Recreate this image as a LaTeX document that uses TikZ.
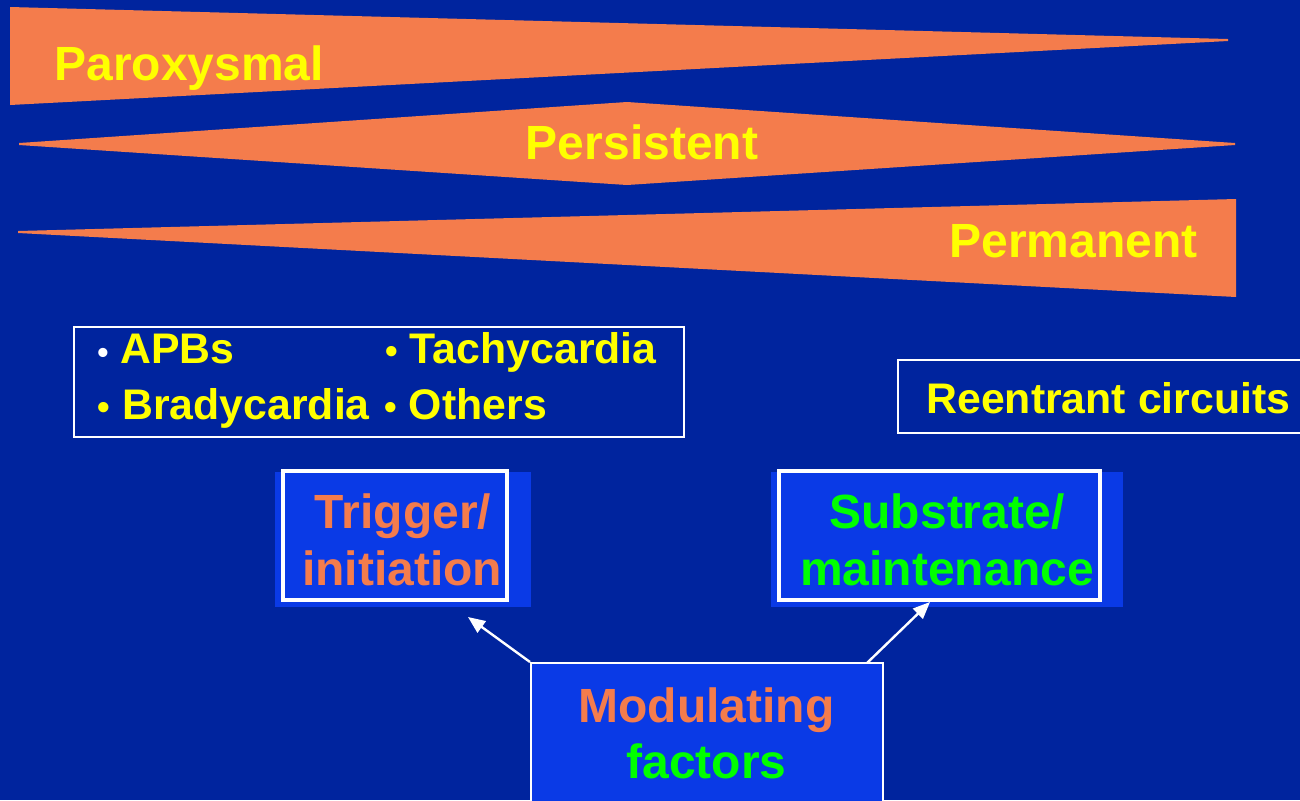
\documentclass[tikz,border=0pt]{standalone}
\usepackage{fontspec}
\setmainfont{Liberation Sans}
\usetikzlibrary{arrows.meta}
\definecolor{bgblue}{RGB}{0,36,158}
\definecolor{boxblue}{RGB}{10,58,230}
\definecolor{orng}{RGB}{244,124,76}
\definecolor{yel}{RGB}{255,255,0}
\definecolor{grn}{RGB}{0,255,0}
\newcommand{\ybul}{{\fontsize{18}{20}\selectfont\textbullet}}
\newcommand{\wbul}{{\fontsize{16}{20}\selectfont\color{white}\textbullet}}
\tikzset{
  bigtxt/.style={font=\fontsize{24}{28}\selectfont\bfseries, inner sep=0pt},
  smalltxt/.style={font=\fontsize{21.4}{25}\selectfont\bfseries, inner sep=0pt, text=yel},
  wedge/.style={fill=orng, draw=none},
  shadowbox/.style={fill=boxblue, draw=none, inner sep=0pt},
  framebox/.style={draw=white, line width=2pt, inner sep=0pt},
  listbox/.style={draw=white, line width=1pt, inner sep=0pt},
  conn/.style={draw=white, line width=1.2pt, -{Triangle[length=8.5pt,width=7pt]}}
}
\begin{document}
\begin{tikzpicture}[x=0.5pt,y=-0.5pt]
\useasboundingbox (0,0) rectangle (1300,800);
\fill[bgblue] (0,0) rectangle (1300,800);
\clip (0,0) rectangle (1300,800);

% wedges
\fill[wedge] (10,7) -- (1228,39) -- (1228,41) -- (10,105) -- cycle;
\fill[wedge] (19,143) -- (627,102) -- (1235,143) -- (1235,145) -- (627,185) -- (19,145) -- cycle;
\fill[wedge] (18,231) -- (1236,199) -- (1236,297) -- (18,233) -- cycle;
\node[bigtxt, text=yel, anchor=base west] (parox) at (54,80) {Paroxysmal};
\node[bigtxt, text=yel, anchor=base] (pers) at (642,159) {Persistent};
\node[bigtxt, text=yel, anchor=base west] (perm) at (949,257) {Permanent};

% list box
\node[listbox, minimum width=305pt, minimum height=55pt] (list) at (379,382) {};
\node[smalltxt, anchor=base west] (apb) at (97,363) {\wbul\ APBs};
\node[smalltxt, anchor=base west] (tachy) at (385,363) {\ybul\ Tachycardia};
\node[smalltxt, anchor=base west] (brady) at (97.5,419) {\ybul\ Bradycardia};
\node[smalltxt, anchor=base west] (others) at (384,419) {\ybul\ Others};

% reentrant box
\node[listbox, minimum width=220pt, minimum height=36.5pt] (reent) at (1118,396.5) {};
\node[smalltxt, anchor=base west] (reenttxt) at (926,413) {Reentrant circuits};

% trigger box
\node[shadowbox, minimum width=128pt, minimum height=67.5pt] (trigS) at (403,539.5) {};
\node[framebox, minimum width=112pt, minimum height=64.5pt] (trig) at (395,535.5) {};
\node[bigtxt, text=orng, anchor=base] (trig1) at (403,528) {Trigger/};
\node[bigtxt, text=orng, anchor=base] (trig2) at (402,585) {initiation};

% substrate box
\node[shadowbox, minimum width=176pt, minimum height=67.5pt] (subS) at (947,539.5) {};
\node[framebox, minimum width=160.5pt, minimum height=64.5pt] (sub) at (939.5,535.5) {};
\node[bigtxt, text=grn, anchor=base] (sub1) at (947,528) {Substrate/};
\node[bigtxt, text=grn, anchor=base] (sub2) at (947,585) {maintenance};

% modulating box
\node[fill=boxblue, draw=white, line width=1pt, inner sep=0pt, minimum width=176pt, minimum height=90pt] (mod) at (707,753) {};
\node[bigtxt, text=orng, anchor=base] (mod1) at (706.5,722) {Modulating};
\node[bigtxt, text=grn, anchor=base] (mod2) at (706.5,778) {factors};

% connectors
\coordinate (trigTip) at (468,617);
\coordinate (subTip) at (930,602);
\coordinate (modR) at (867,663);
\draw[conn] (mod.north west) -- (trigTip);
\draw[conn] (modR) -- (subTip);
\end{tikzpicture}
\end{document}
